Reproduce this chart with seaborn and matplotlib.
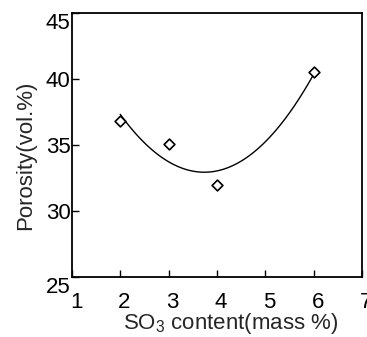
import matplotlib
matplotlib.use("Agg")
import matplotlib.pyplot as plt
import matplotlib.transforms as mtransforms
import seaborn as sns
import pandas as pd

# data
so3_content = [2, 3, 4, 6]
porosity = [36.8, 35.1, 32.0, 40.5]
x_ticks = [1, 2, 3, 4, 5, 6, 7]
y_ticks = [25, 30, 35, 40, 45]

df = pd.DataFrame({"so3": so3_content, "porosity": porosity})

sns.set_style("ticks")
plt.rcParams["font.family"] = ["Liberation Sans", "DejaVu Sans"]
plt.rcParams["mathtext.fontset"] = "custom"
plt.rcParams["mathtext.rm"] = "Liberation Sans"
plt.rcParams["mathtext.default"] = "regular"

fig = plt.figure(figsize=(3.67, 3.37), dpi=100)
ax = fig.add_axes([0.196, 0.178, 0.79, 0.784])

# quadratic trend line through the points
sns.regplot(data=df, x="so3", y="porosity", order=2, ci=None, scatter=False,
            line_kws=dict(color="black", lw=1.0), ax=ax)
sns.scatterplot(data=df, x="so3", y="porosity", marker="D", s=30,
                facecolor="white", edgecolor="black", linewidth=1.2, zorder=5, ax=ax)

ax.set_xlim(1, 7)
ax.set_ylim(25, 45)
ax.set_xticks(x_ticks)
ax.set_yticks(y_ticks)
ax.set_xticklabels([str(t) for t in x_ticks])
ax.set_yticklabels([str(t) for t in y_ticks])

for s in ax.spines.values():
    s.set_visible(True)
    s.set_color("black")
    s.set_linewidth(1.3)

ax.tick_params(axis="both", direction="in", length=5, width=1, colors="black",
               labelsize=16, top=False, right=False)
ax.tick_params(axis="x", pad=11)
ax.tick_params(axis="y", pad=1)

# small offsets like the original label placement
off = mtransforms.ScaledTranslation(3 / 72, 0, fig.dpi_scale_trans)
for lab in ax.get_xticklabels():
    lab.set_transform(lab.get_transform() + off)
ylabs = ax.get_yticklabels()
ylabs[0].set_va("top")
ylabs[-1].set_va("top")

ax.set_xlabel("SO$_3$ content(mass %)", fontsize=16)
ax.xaxis.set_label_coords(0.548, -0.13)
ax.set_ylabel("Porosity(vol.%)", fontsize=16)
ax.yaxis.set_label_coords(-0.125, 0.462)

fig.savefig("out.png", dpi=100)
